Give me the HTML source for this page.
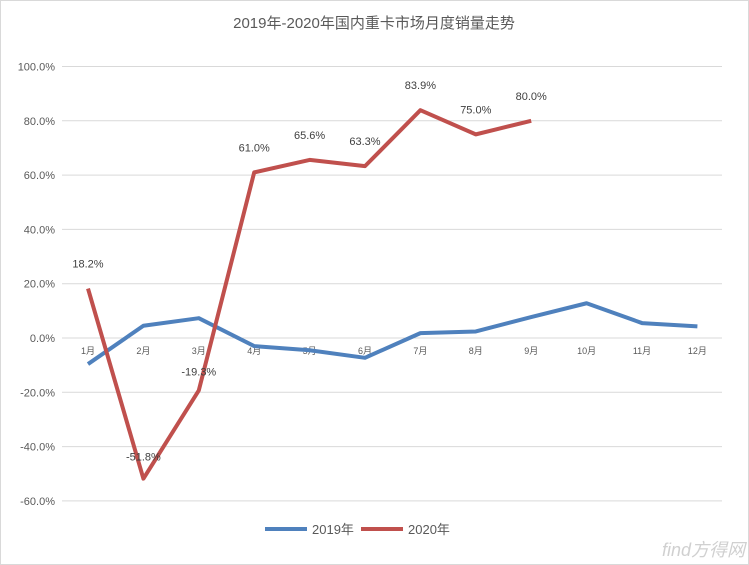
<!DOCTYPE html>
<html><head><meta charset="utf-8"><style>
body{margin:0;background:#fff;}
svg{display:block;font-family:"Liberation Sans","Noto Sans CJK SC",sans-serif;}
</style></head><body>
<svg id="chart" width="749" height="565">
<rect x="0.5" y="0.5" width="748" height="564" fill="#fff" stroke="#d9d9d9"/>
<text x="374" y="28" text-anchor="middle" font-size="15" fill="#595959">2019年-2020年国内重卡市场月度销量走势</text>
<g id="grid"></g><g id="ylabels"></g><g id="xlabels"></g><g id="series"></g><g id="dlabels"></g>
<g>
<line x1="265" y1="529" x2="307" y2="529" stroke="#4f81bd" stroke-width="4"/>
<text x="312" y="534" font-size="13" fill="#595959">2019年</text>
<line x1="361" y1="529" x2="403" y2="529" stroke="#c0504d" stroke-width="4"/>
<text x="408" y="534" font-size="13" fill="#595959">2020年</text>
</g>
<text x="745" y="556" text-anchor="end" font-size="18" font-style="italic" fill="#d0d0d0">find方得网</text>
</svg>
<script>
const categories=["1月","2月","3月","4月","5月","6月","7月","8月","9月","10月","11月","12月"];
const series2019=[-9.6,4.5,7.3,-3,-4.5,-7.3,1.8,2.4,7.7,12.8,5.5,4.3];
const series2020=[18.2,-51.8,-19.3,61.0,65.6,63.3,83.9,75.0,80.0];
const yTicks=[100,80,60,40,20,0,-20,-40,-60];
const NS="http://www.w3.org/2000/svg";
function y(v){return 338-v*2.715;}
function x(i){return 88+i*55.4;}
function mk(tag,attrs,parent){const e=document.createElementNS(NS,tag);for(const k in attrs)e.setAttribute(k,attrs[k]);document.getElementById(parent).appendChild(e);return e;}
yTicks.forEach(t=>{
 const l=mk('line',{x1:62,x2:722,y1:y(t),y2:y(t),stroke:'#d9d9d9','stroke-width':1},'grid');
 
 
 const tx=mk('text',{x:55,y:y(t)+4,'text-anchor':'end','font-size':11,fill:'#595959'},'ylabels');
 tx.textContent=t.toFixed(1)+'%';
 
 
});
categories.forEach((c,i)=>{
 const tx=mk('text',{x:x(i),y:y(0)+16,'text-anchor':'middle','font-size':9,fill:'#595959'},'xlabels');
 tx.textContent=c;
 
 
});
function line(arr,col,name){
 const p=mk('polyline',{points:arr.map((v,i)=>x(i)+','+y(v)).join(' '),fill:'none',stroke:col,'stroke-width':4,'stroke-linejoin':'round'},'series');
 
 
}
line(series2019,'#4f81bd','series-2019');
line(series2020,'#c0504d','series-2020');
series2020.forEach((v,i)=>{
 const tx=mk('text',{x:x(i),y:y(v)-21,'text-anchor':'middle','font-size':11,fill:'#404040'},'dlabels');
 if(i===1)tx.setAttribute('y',y(v)-18);
 if(i===2)tx.setAttribute('y',y(v)-15);
 tx.textContent=v.toFixed(1)+'%';
 
 
});
</script>
</body></html>
